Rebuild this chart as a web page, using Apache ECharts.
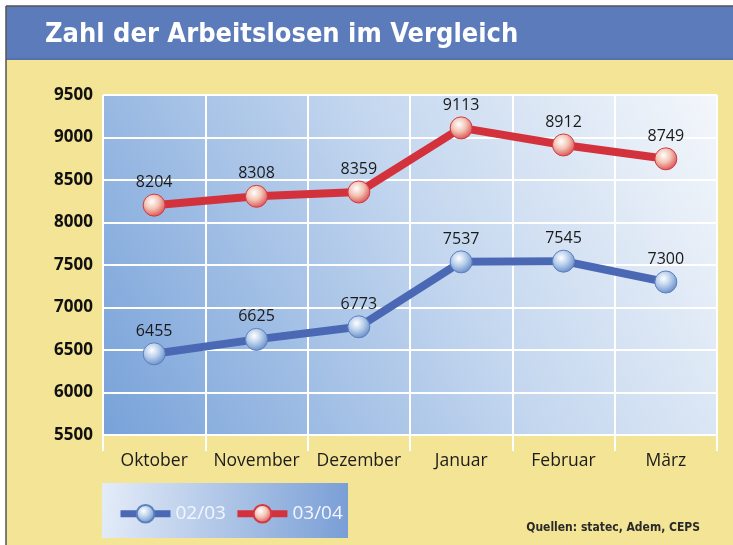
<!DOCTYPE html>
<html><head><meta charset="utf-8">
<script src="https://cdn.jsdelivr.net/npm/echarts@6/dist/echarts.min.js"></script>
<style>html,body{margin:0;padding:0;background:#fff}#c{width:733px;height:545px}</style>
</head><body><div id="c"></div>
<script>
const categories = ['Oktober','November','Dezember','Januar','Februar','März'];
const series0203 = [6455, 6625, 6773, 7537, 7545, 7300];
const series0304 = [8204, 8308, 8359, 9113, 8912, 8749];
const seriesNames = ['02/03', '03/04'];
const yTicks = {min: 5500, max: 9500, interval: 500};
const titleText = 'Zahl der Arbeitslosen im Vergleich';
const sourceText = 'Quellen: statec, Adem, CEPS';

const chart = echarts.init(document.getElementById('c'));
function ball(light, dark){
  return {type:'radial', x:0.4, y:0.35, r:0.7, colorStops:[{offset:0,color:'#ffffff'},{offset:0.45,color:light},{offset:1,color:dark}]};
}
const labelStyle = {show:true, position:'top', distance:3, color:'#1a1a1a', fontSize:16, fontFamily:'Open Sans', fontWeight:500};
chart.setOption({
  backgroundColor:'#fff',
  animation:false,
  graphic:[
    {type:'rect', z:-10, shape:{x:6,y:6,width:727,height:539}, style:{fill:'#f4e496'}},
    {type:'rect', z:-9, shape:{x:6,y:6,width:727,height:54}, style:{fill:'#5b7bba'}},
    {type:'line', z:-8, shape:{x1:6,y1:59,x2:733,y2:59}, style:{stroke:'#4a6aa5',lineWidth:1}},
    {type:'line', z:-8, shape:{x1:6,y1:6,x2:733,y2:6}, style:{stroke:'#555',lineWidth:1.5}},
    {type:'line', z:-8, shape:{x1:6,y1:6,x2:6,y2:545}, style:{stroke:'#555',lineWidth:1.5}},
    {type:'rect', z:-7, shape:{x:102,y:483,width:246,height:55},
      style:{fill:{type:'linear',x:0,y:0,x2:1,y2:0.3,colorStops:[{offset:0,color:'#e4ecf8'},{offset:1,color:'#7a9fd6'}]}}},
    {type:'text', left:45, top:21, style:{text:titleText, fill:'#ffffff', font:'bold 27px "Liberation Sans Narrow", "DejaVu Sans Condensed", sans-serif'}},
    {type:'text', right:33, top:522, style:{text:sourceText, fill:'#2a2a2a', font:'bold 12px "Liberation Sans Narrow", "DejaVu Sans Condensed", sans-serif'}}
  ],
  legend:{
    left:112, top:499, itemWidth:50, itemHeight:22, itemGap:8,
    lineStyle:{width:7},
    textStyle:{color:'#f2f6ff', fontSize:19, fontFamily:'Open Sans'},
    data:seriesNames
  },
  grid:{left:103, right:16, top:95, bottom:110, show:true, borderWidth:0,
    backgroundColor:{type:'linear',x:0,y:1,x2:1,y2:0,colorStops:[{offset:0,color:'#78a2d9'},{offset:0.55,color:'#c4d7ef'},{offset:1,color:'#f4f7fb'}]}},
  xAxis:{type:'category', data:categories, boundaryGap:true,
    axisLine:{show:false},
    axisTick:{show:true, interval:0, length:16, lineStyle:{color:'#ffffff', width:2}},
    axisLabel:{interval:0, color:'#1c1c1c', fontSize:17.5, fontFamily:'Open Sans', margin:17},
    splitLine:{show:true, interval:0, lineStyle:{color:'#ffffff', width:2}}
  },
  yAxis:{type:'value', min:yTicks.min, max:yTicks.max, interval:yTicks.interval,
    axisLine:{show:false}, axisTick:{show:false},
    axisLabel:{color:'#111', fontSize:17, fontWeight:'bold', fontFamily:'Open Sans', margin:10,
      formatter:function(v){return String(v);}},
    splitLine:{show:true, lineStyle:{color:'#ffffff', width:2}}
  },
  series:[
    {name:seriesNames[0], type:'line', data:series0203, symbol:'circle', symbolSize:22,
      lineStyle:{color:'#4b68b5', width:8}, itemStyle:{color:ball('#b9d0ec','#5f86c4'), borderColor:'#5c7fbf', borderWidth:1},
      label:labelStyle, z:3},
    {name:seriesNames[1], type:'line', data:series0304, symbol:'circle', symbolSize:22,
      lineStyle:{color:'#d3323c', width:8}, itemStyle:{color:ball('#f3c4b4','#d8454a'), borderColor:'#d23a40', borderWidth:1},
      label:labelStyle, z:3}
  ]
});
</script></body></html>
